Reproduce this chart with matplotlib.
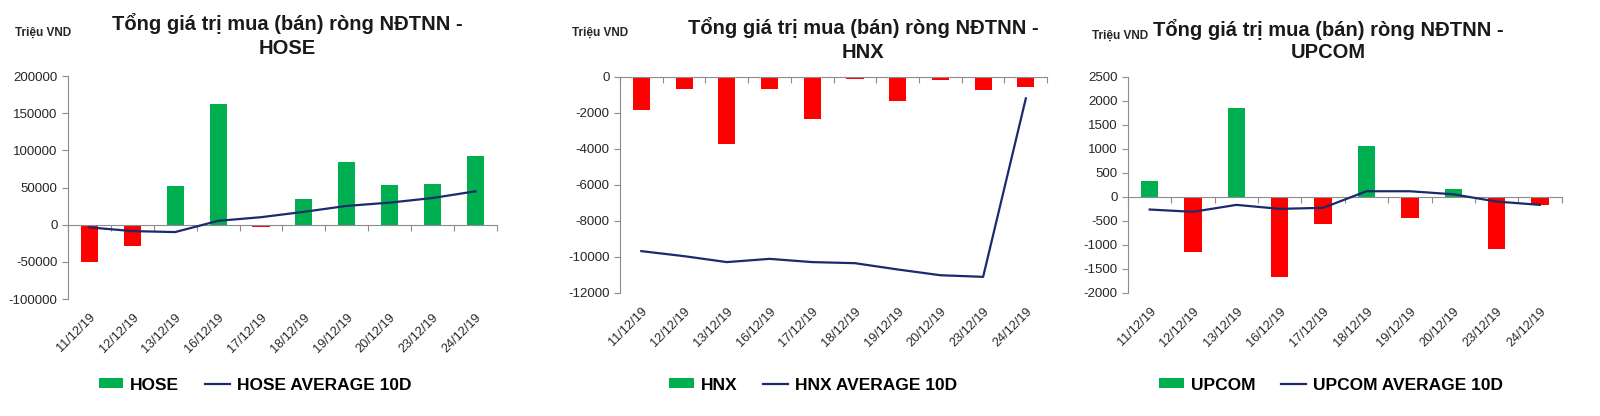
import numpy as np
import matplotlib
matplotlib.use("Agg")
import matplotlib.pyplot as plt
from matplotlib.patches import Patch
from matplotlib.lines import Line2D

plt.rcParams['font.family'] = ['Liberation Sans', 'DejaVu Sans']
plt.rcParams['axes.unicode_minus'] = False

# ─────────────────────────────────────────────
# Data (triệu VND)
# ─────────────────────────────────────────────

dates = ["11/12/19", "12/12/19", "13/12/19", "16/12/19", "17/12/19",
         "18/12/19", "19/12/19", "20/12/19", "23/12/19", "24/12/19"]

hose_net = [-50000, -28500, 52500, 163000, -3500, 34300, 85000, 54000, 55200, 93000]
hose_avg = [-3500, -8500, -9800, 5300, 10200, 17400, 25400, 29800, 36000, 45000]

hnx_net = [-1860, -670, -3720, -670, -2360, -130, -1320, -180, -725, -576]
hnx_avg = [-9680, -9960, -10290, -10110, -10290, -10350, -10700, -11020, -11110, -1190]

upcom_net = [332, -1150, 1850, -1660, -575, 1066, -450, 173, -1094, -173]
upcom_avg = [-263, -311, -166, -249, -228, 118, 118, 55, -97, -166]

TITLE = "Tổng giá trị mua (bán) ròng NĐTNN -"
UNIT = "Triệu VND"

GREEN = "#00B050"
RED = "#FF0000"
NAVY = "#1A2A6C"
AXIS_GREY = "#8C8C8C"

# panel settings: name, bars, avg, y-limits, y-step, axes rect, title x, title ys, unit pos, legend x
panels = [
    ("HOSE", hose_net, hose_avg, (-100000, 200000), 50000,
     [0.0425, 0.281, 0.268, 0.536], 287, (23, 48), (15, 33), 255),
    ("HNX", hnx_net, hnx_avg, (-12000, 0), 2000,
     [0.3875, 0.296, 0.267, 0.519], 863, (27, 52), (572, 33), 813),
    ("UPCOM", upcom_net, upcom_avg, (-2000, 2500), 500,
     [0.705, 0.296, 0.271, 0.519], 1328, (29, 53), (1092, 36), 1331),
]

W, H = 1600, 416
fig = plt.figure(figsize=(W / 100, H / 100), dpi=100)

x = np.arange(len(dates))

for name, net, avg, ylim, ystep, rect, tx, tys, upos, legx in panels:
    ax = fig.add_axes(rect)
    colours = [GREEN if v >= 0 else RED for v in net]
    ax.bar(x, net, width=0.4, color=colours, zorder=2)
    ax.plot(x, avg, color=NAVY, linewidth=1.6, zorder=3)

    ax.set_xlim(-0.5, len(dates) - 0.5)
    ax.set_ylim(*ylim)
    ax.set_yticks(np.arange(ylim[0], ylim[1] + ystep / 2, ystep))
    ax.tick_params(axis='y', labelsize=9.5, labelcolor='#262626',
                   color=AXIS_GREY, length=4, width=0.8)

    for s in ['top', 'right']:
        ax.spines[s].set_visible(False)
    ax.spines['left'].set_color(AXIS_GREY)
    ax.spines['bottom'].set_color(AXIS_GREY)
    ax.spines['bottom'].set_position(('data', 0))

    # category boundary ticks on the zero line
    ax.set_xticks(np.arange(-0.5, len(dates), 1.0))
    ax.set_xticklabels([])
    ax.tick_params(axis='x', color=AXIS_GREY, length=4, width=0.8)

    # date labels at the bottom of the plot area
    sec = ax.secondary_xaxis('bottom')
    sec.set_xticks(x)
    sec.set_xticklabels(dates, rotation=45, ha='right', rotation_mode='anchor',
                        fontsize=9.2, color='#262626')
    sec.tick_params(length=0, pad=9)
    sec.spines['bottom'].set_visible(False)

    # titles
    fig.text(tx / W, 1 - tys[0] / H, TITLE, ha='center', va='center',
             fontsize=14.5, fontweight='bold', color='#1a1a1a')
    fig.text(tx / W, 1 - tys[1] / H, name, ha='center', va='center',
             fontsize=14.5, fontweight='bold', color='#1a1a1a')
    fig.text(upos[0] / W, 1 - upos[1] / H, UNIT, ha='left', va='center',
             fontsize=8.5, fontweight='bold', color='#262626')

    handles = [Patch(facecolor=GREEN, edgecolor='none'),
               Line2D([0], [0], color=NAVY, linewidth=1.6)]
    fig.legend(handles, [name, f"{name} AVERAGE 10D"], loc='center',
               bbox_to_anchor=(legx / W, 1 - 385 / H), ncol=2, frameon=False,
               prop={'size': 12.5, 'weight': 'bold'}, handlelength=1.4,
               handleheight=0.5, handletextpad=0.4, columnspacing=1.5)

fig.savefig("out.png", dpi=100)
